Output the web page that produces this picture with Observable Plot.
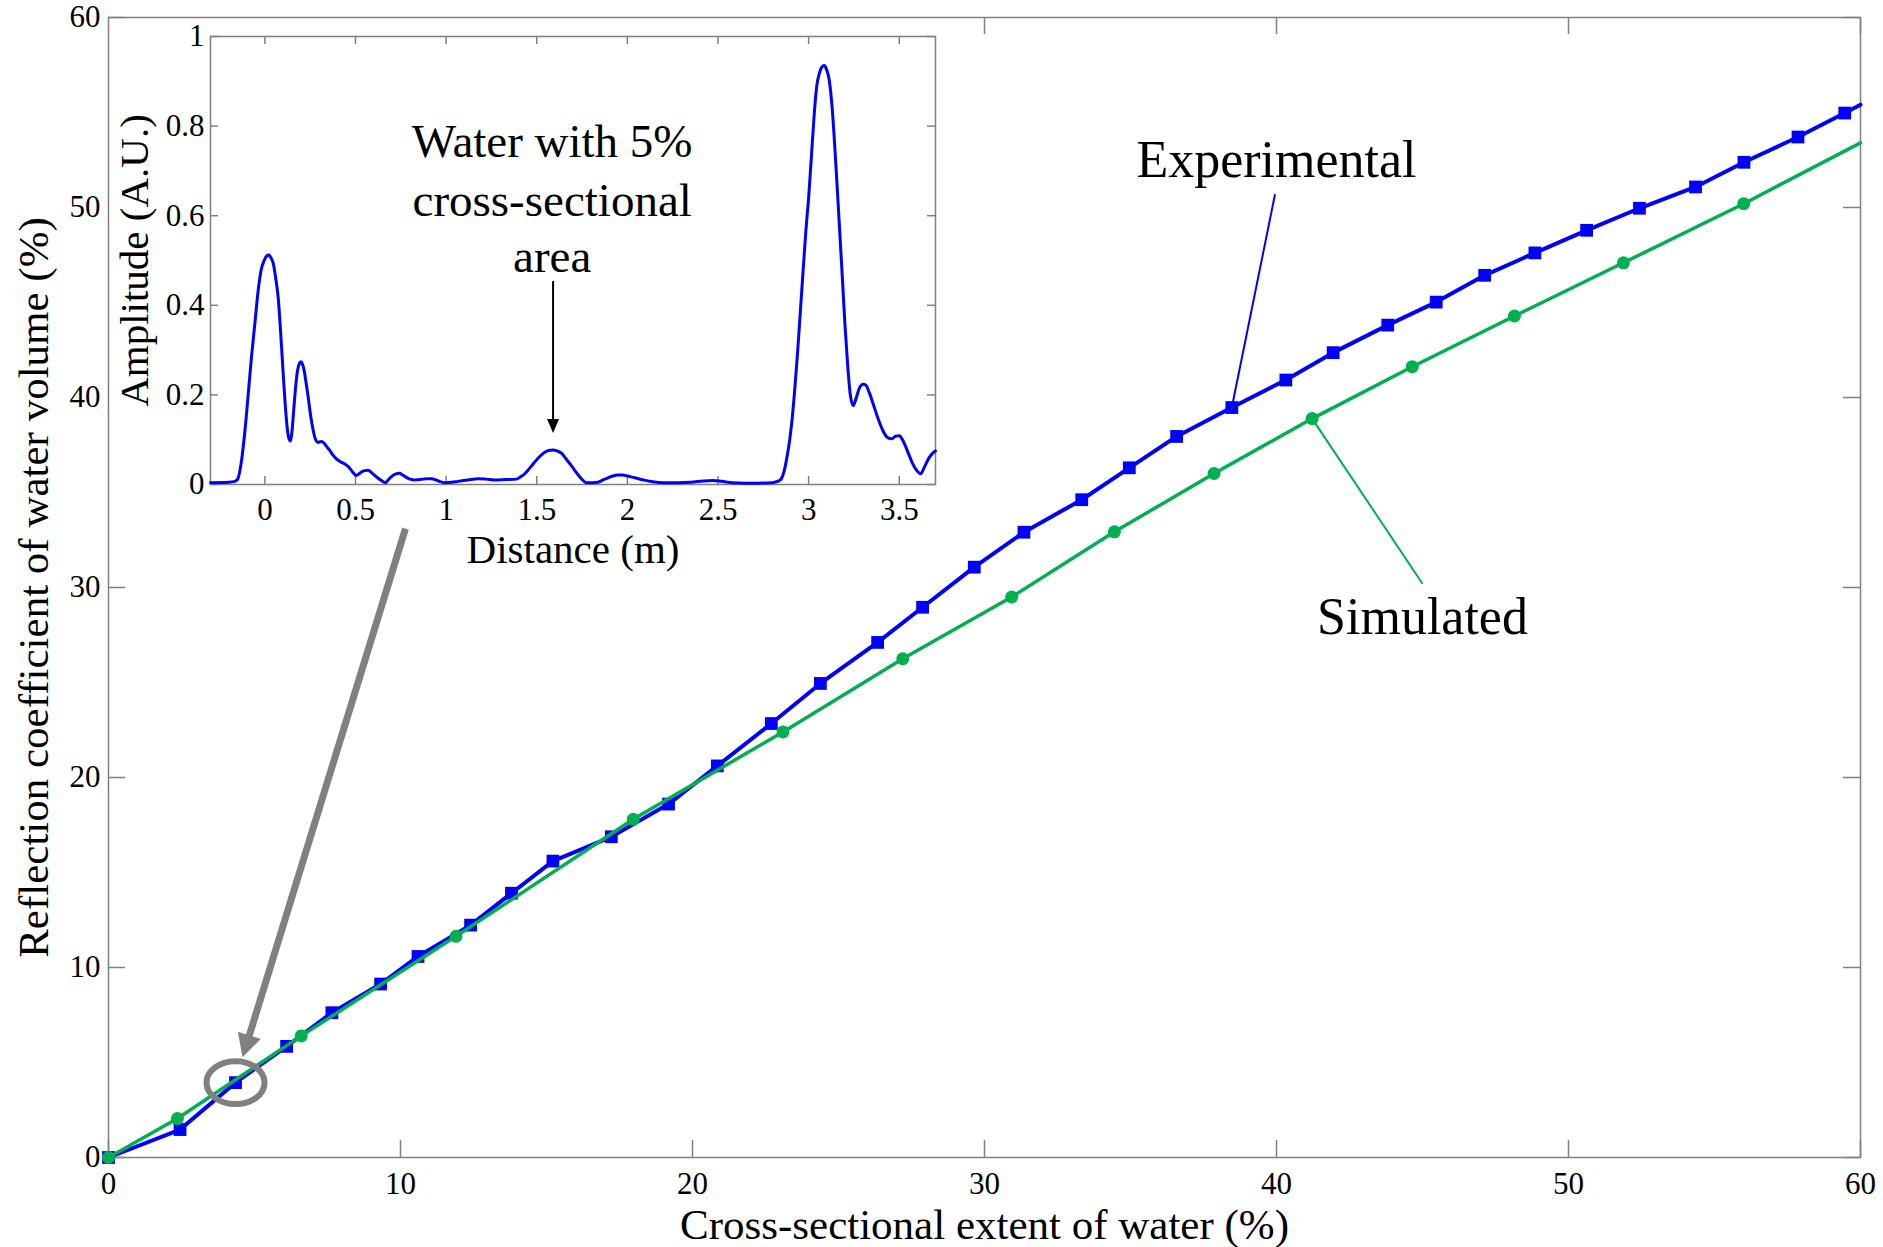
<!DOCTYPE html>
<html><head><meta charset="utf-8">
<script src="https://cdn.jsdelivr.net/npm/d3@7"></script>
<script src="https://cdn.jsdelivr.net/npm/@observablehq/plot@0.6"></script>
<style>
html,body{margin:0;padding:0;background:#fff;}
#wrap{position:relative;width:1883px;height:1247px;overflow:hidden;background:#fff;}
#main{position:absolute;left:0;top:0;}
#inset{position:absolute;left:110px;top:19px;}
</style></head><body><div id="wrap"><div id="inset"></div><div id="main"></div></div>
<script>
// ---- main chart data ----
const expX = [0, 2.45, 4.35, 6.1, 7.65, 9.32, 10.6, 12.4, 13.8, 15.22, 17.22, 19.18, 20.85, 22.7, 24.38, 26.34, 27.88, 29.65, 31.35, 33.33, 34.96, 36.58, 38.47, 40.32, 41.94, 43.81, 45.47, 47.13, 48.85, 50.62, 52.43, 54.35, 56.01, 57.86, 59.46, 60];
const expY = [0, 1.47, 3.94, 5.85, 7.62, 9.13, 10.58, 12.23, 13.91, 15.6, 16.88, 18.6, 20.61, 22.84, 24.95, 27.11, 28.96, 31.07, 32.91, 34.62, 36.3, 37.95, 39.47, 40.92, 42.36, 43.81, 45.02, 46.43, 47.61, 48.8, 49.96, 51.08, 52.38, 53.71, 54.97, 55.41];
const expMarkerCount = 35;
const simX = [0, 2.36, 6.6, 11.9, 17.97, 23.1, 27.2, 30.93, 34.45, 37.86, 41.22, 44.65, 48.15, 51.88, 56.0, 60];
const simY = [0, 2.05, 6.4, 11.64, 17.8, 22.4, 26.25, 29.5, 32.93, 36.0, 38.89, 41.62, 44.29, 47.09, 50.2, 53.4];
const simMarkerCount = 15;
const mainTicks = [0, 10, 20, 30, 40, 50, 60];
// inner tick marks visible in the reference (the inset hides the others)
const bottomTicks = [0, 10, 20, 30, 40, 50, 60];
const topTicks = [30, 40, 50, 60];
const leftTicks = [0, 10, 20, 30, 60];
const rightTicks = [0, 10, 20, 30, 40, 50, 60];
const xTitle = "Cross-sectional extent of water (%)";
const yTitle = "Reflection coefficient of water volume (%)";
const seriesLabels = ["Experimental", "Simulated"];
const labelX = [40.0, 45.0];
const labelY = [51.63, 27.55];
// leader lines: [x1, y1, x2, y2]
const leaderExp = [39.95, 50.7, 38.47, 39.47];
const leaderSim = [41.22, 38.89, 45.0, 30.2];
// callout arrow from inset to circled point
const callout = [10.17, 33.1, 4.59, 5.27];
const circled = [4.35, 3.94];

// ---- inset data ----
const distX = [-0.30,-0.20,-0.165,-0.15,-0.13,-0.11,-0.09,-0.074,-0.055,-0.037,-0.02,-0.004,0.01,0.022,0.035,0.046,0.06,0.074,0.087,0.10,0.112,0.125,0.135,0.142,0.150,0.158,0.168,0.18,0.19,0.199,0.208,0.217,0.228,0.239,0.252,0.267,0.28,0.294,0.31,0.322,0.34,0.358,0.375,0.395,0.42,0.44,0.46,0.478,0.49,0.505,0.52,0.533,0.55,0.57,0.59,0.607,0.625,0.643,0.665,0.68,0.70,0.72,0.744,0.76,0.78,0.80,0.827,0.86,0.89,0.92,0.95,0.993,1.03,1.066,1.12,1.176,1.22,1.268,1.33,1.388,1.41,1.434,1.46,1.489,1.515,1.544,1.565,1.59,1.612,1.636,1.66,1.691,1.72,1.746,1.774,1.81,1.838,1.865,1.893,1.92,1.949,1.975,2.0,2.04,2.09,2.14,2.2,2.28,2.35,2.42,2.47,2.52,2.58,2.65,2.72,2.8,2.835,2.848,2.865,2.88,2.895,2.91,2.925,2.94,2.955,2.97,2.985,3.0,3.015,3.031,3.045,3.059,3.073,3.086,3.1,3.114,3.13,3.15,3.168,3.187,3.2,3.215,3.23,3.246,3.26,3.28,3.3,3.315,3.335,3.36,3.385,3.41,3.435,3.459,3.48,3.5,3.52,3.545,3.57,3.595,3.618,3.64,3.665,3.685,3.70];
const ampY = [0.004,0.005,0.007,0.012,0.05,0.12,0.21,0.284,0.36,0.433,0.48,0.50,0.51,0.512,0.505,0.494,0.46,0.415,0.34,0.254,0.18,0.12,0.10,0.097,0.12,0.16,0.21,0.254,0.27,0.274,0.268,0.254,0.225,0.195,0.155,0.12,0.10,0.094,0.096,0.094,0.085,0.076,0.066,0.057,0.050,0.046,0.040,0.031,0.025,0.020,0.024,0.028,0.031,0.032,0.026,0.020,0.014,0.009,0.004,0.010,0.018,0.023,0.025,0.021,0.016,0.012,0.010,0.011,0.013,0.013,0.009,0.004,0.005,0.007,0.010,0.013,0.012,0.010,0.011,0.012,0.017,0.024,0.036,0.050,0.062,0.072,0.076,0.077,0.075,0.070,0.058,0.042,0.026,0.013,0.004,0.004,0.005,0.010,0.015,0.019,0.021,0.021,0.019,0.015,0.010,0.006,0.004,0.004,0.005,0.008,0.009,0.007,0.004,0.003,0.003,0.004,0.008,0.012,0.03,0.06,0.098,0.15,0.22,0.30,0.39,0.48,0.567,0.64,0.73,0.827,0.89,0.917,0.932,0.935,0.925,0.902,0.84,0.716,0.59,0.455,0.36,0.269,0.2,0.176,0.19,0.215,0.224,0.222,0.205,0.175,0.145,0.12,0.105,0.102,0.108,0.109,0.098,0.075,0.05,0.032,0.024,0.04,0.06,0.07,0.075];
const insetXTicks = [0, 0.5, 1, 1.5, 2, 2.5, 3, 3.5];
const insetYTicks = [0, 0.2, 0.4, 0.6, 0.8, 1];
const insetXTitle = "Distance (m)";
const insetYTitle = "Amplitude (A.U.)";
const noteLines = ["Water with 5%", "cross-sectional", "area"];
const noteX = 1.585;
const noteY = [0.73, 0.60, 0.475];
const noteArrow = [1.59, 0.454, 1.59, 0.115];

// ---- styles ----
const gray = "#808080", blue = "#0000ff", green = "#00b050";
const serif = "'Liberation Serif','Times New Roman',serif";

// arrowhead symbol: tip at origin pointing up
const headSym = (L, w) => ({draw(ctx) { ctx.moveTo(0, 0); ctx.lineTo(w, L); ctx.lineTo(-w, L); ctx.closePath(); }});
const ellipseSym = (ratio) => ({draw(ctx, size) {
  const r = Math.sqrt(size / Math.PI), rx = r, ry = r * ratio, k = 0.5523;
  ctx.moveTo(rx, 0);
  ctx.bezierCurveTo(rx, ry * k, rx * k, ry, 0, ry);
  ctx.bezierCurveTo(-rx * k, ry, -rx, ry * k, -rx, 0);
  ctx.bezierCurveTo(-rx, -ry * k, -rx * k, -ry, 0, -ry);
  ctx.bezierCurveTo(rx * k, -ry, rx, -ry * k, rx, 0);
  ctx.closePath();
}});

// ---- main plot ----
const W = 1883, H = 1247, mL = 108, mR = 23, mT = 17, mB = 90;
const iw = W - mL - mR, ih = H - mT - mB;
const kx = iw / 60, ky = ih / 60;
const expData = expX.map((x, i) => ({x, y: expY[i]}));
const simData = simX.map((x, i) => ({x, y: simY[i]}));
const calloutRot = Math.atan2((callout[2] - callout[0]) * kx, (callout[3] - callout[1]) * ky) * 180 / Math.PI;

const main = Plot.plot({
  width: W, height: H, marginLeft: mL, marginRight: mR, marginTop: mT, marginBottom: mB,
  x: {domain: [0, 60]}, y: {domain: [0, 60]},
  style: {fontFamily: serif, color: "black", background: "transparent", overflow: "visible"},
  marks: [
    Plot.tickX(bottomTicks, {x: d => d, stroke: gray, strokeWidth: 1.5, insetTop: ih - 17}),
    Plot.tickX(topTicks, {x: d => d, stroke: gray, strokeWidth: 1.5, insetBottom: ih - 17}),
    Plot.tickY(leftTicks, {y: d => d, stroke: gray, strokeWidth: 1.5, insetRight: iw - 17}),
    Plot.tickY(rightTicks, {y: d => d, stroke: gray, strokeWidth: 1.5, insetLeft: iw - 17}),
    Plot.frame({stroke: gray, strokeWidth: 1.5}),
    Plot.axisX({ticks: mainTicks, tickSize: 0, tickPadding: 14, fontSize: 31, label: null, tickFormat: d => String(d)}),
    Plot.axisY({ticks: mainTicks, tickSize: 0, tickPadding: 8, fontSize: 31, label: null, tickFormat: d => String(d)}),
    Plot.text([xTitle], {text: d => d, frameAnchor: "bottom", lineAnchor: "bottom", dy: 81, fontSize: 43}),
    Plot.text([yTitle], {text: d => d, frameAnchor: "left", textAnchor: "middle", rotate: -90, dx: -74, fontSize: 43}),
    // experimental
    Plot.line(expData, {x: "x", y: "y", stroke: blue, strokeWidth: 4, strokeLinejoin: "round"}),
    Plot.dot(expData.slice(0, expMarkerCount), {x: "x", y: "y", symbol: "square", r: 7.2, fill: blue}),
    // simulated
    Plot.line(simData, {x: "x", y: "y", stroke: green, strokeWidth: 3.5, strokeLinejoin: "round"}),
    Plot.dot(simData.slice(0, simMarkerCount), {x: "x", y: "y", r: 6.5, fill: green}),
    // leaders & labels
    Plot.link([leaderExp], {x1: d => d[0], y1: d => d[1], x2: d => d[2], y2: d => d[3], stroke: blue, strokeWidth: 2}),
    Plot.link([leaderSim], {x1: d => d[0], y1: d => d[1], x2: d => d[2], y2: d => d[3], stroke: green, strokeWidth: 2}),
    Plot.text(seriesLabels, {x: (d, i) => labelX[i], y: (d, i) => labelY[i], text: d => d, lineAnchor: "bottom", fontSize: 52}),
    // callout
    Plot.dot([circled], {x: d => d[0], y: d => d[1], r: 29, symbol: ellipseSym(0.74), fill: "none", stroke: gray, strokeWidth: 6}),
    Plot.arrow([callout], {x1: d => d[0], y1: d => d[1], x2: d => d[2], y2: d => d[3], stroke: gray, strokeWidth: 7, headLength: 0, insetEnd: 18, strokeLinecap: "butt"}),
    Plot.dot([callout], {x: d => d[2], y: d => d[3], r: 5, symbol: headSym(23, 12), rotate: calloutRot, fill: gray, stroke: "none"})
  ]
});
document.getElementById("main").appendChild(main);

// ---- inset plot ----
const IW = 830, IH = 556, imL = 100, imR = 5, imT = 17, imB = 91;
const iiw = IW - imL - imR, iih = IH - imT - imB;
const insetData = distX.map((x, i) => ({x, y: ampY[i]}));
const inset = Plot.plot({
  width: IW, height: IH, marginLeft: imL, marginRight: imR, marginTop: imT, marginBottom: imB,
  x: {domain: [-0.3, 3.7]}, y: {domain: [0, 1]},
  style: {fontFamily: serif, color: "black", background: "white", overflow: "visible"},
  marks: [
    Plot.tickX(insetXTicks, {x: d => d, stroke: gray, strokeWidth: 1.5, insetTop: iih - 8}),
    Plot.tickX(insetXTicks, {x: d => d, stroke: gray, strokeWidth: 1.5, insetBottom: iih - 8}),
    Plot.tickY(insetYTicks, {y: d => d, stroke: gray, strokeWidth: 1.5, insetRight: iiw - 8}),
    Plot.tickY(insetYTicks, {y: d => d, stroke: gray, strokeWidth: 1.5, insetLeft: iiw - 8}),
    Plot.frame({stroke: gray, strokeWidth: 1.5}),
    Plot.axisX({ticks: insetXTicks, tickSize: 0, tickPadding: 13, fontSize: 31, label: null, tickFormat: d => String(d)}),
    Plot.axisY({ticks: insetYTicks, tickSize: 0, tickPadding: 6, fontSize: 31, label: null, tickFormat: d => String(d)}),
    Plot.text([insetXTitle], {text: d => d, frameAnchor: "bottom", lineAnchor: "bottom", dy: 78, fontSize: 41}),
    Plot.text([insetYTitle], {text: d => d, frameAnchor: "left", textAnchor: "middle", rotate: -90, dx: -76, fontSize: 41}),
    Plot.line(insetData, {x: "x", y: "y", stroke: blue, strokeWidth: 3, curve: "monotone-x"}),
    Plot.text(noteLines, {x: noteX, y: (d, i) => noteY[i], text: d => d, lineAnchor: "bottom", fontSize: 47}),
    Plot.arrow([noteArrow], {x1: d => d[0], y1: d => d[1], x2: d => d[2], y2: d => d[3], stroke: "black", strokeWidth: 2, headLength: 0, insetEnd: 12, strokeLinecap: "butt"}),
    Plot.dot([noteArrow], {x: d => d[2], y: d => d[3], r: 5, symbol: headSym(14, 6), rotate: 180, fill: "black", stroke: "none"})
  ]
});
document.getElementById("inset").appendChild(inset);
</script></body></html>
